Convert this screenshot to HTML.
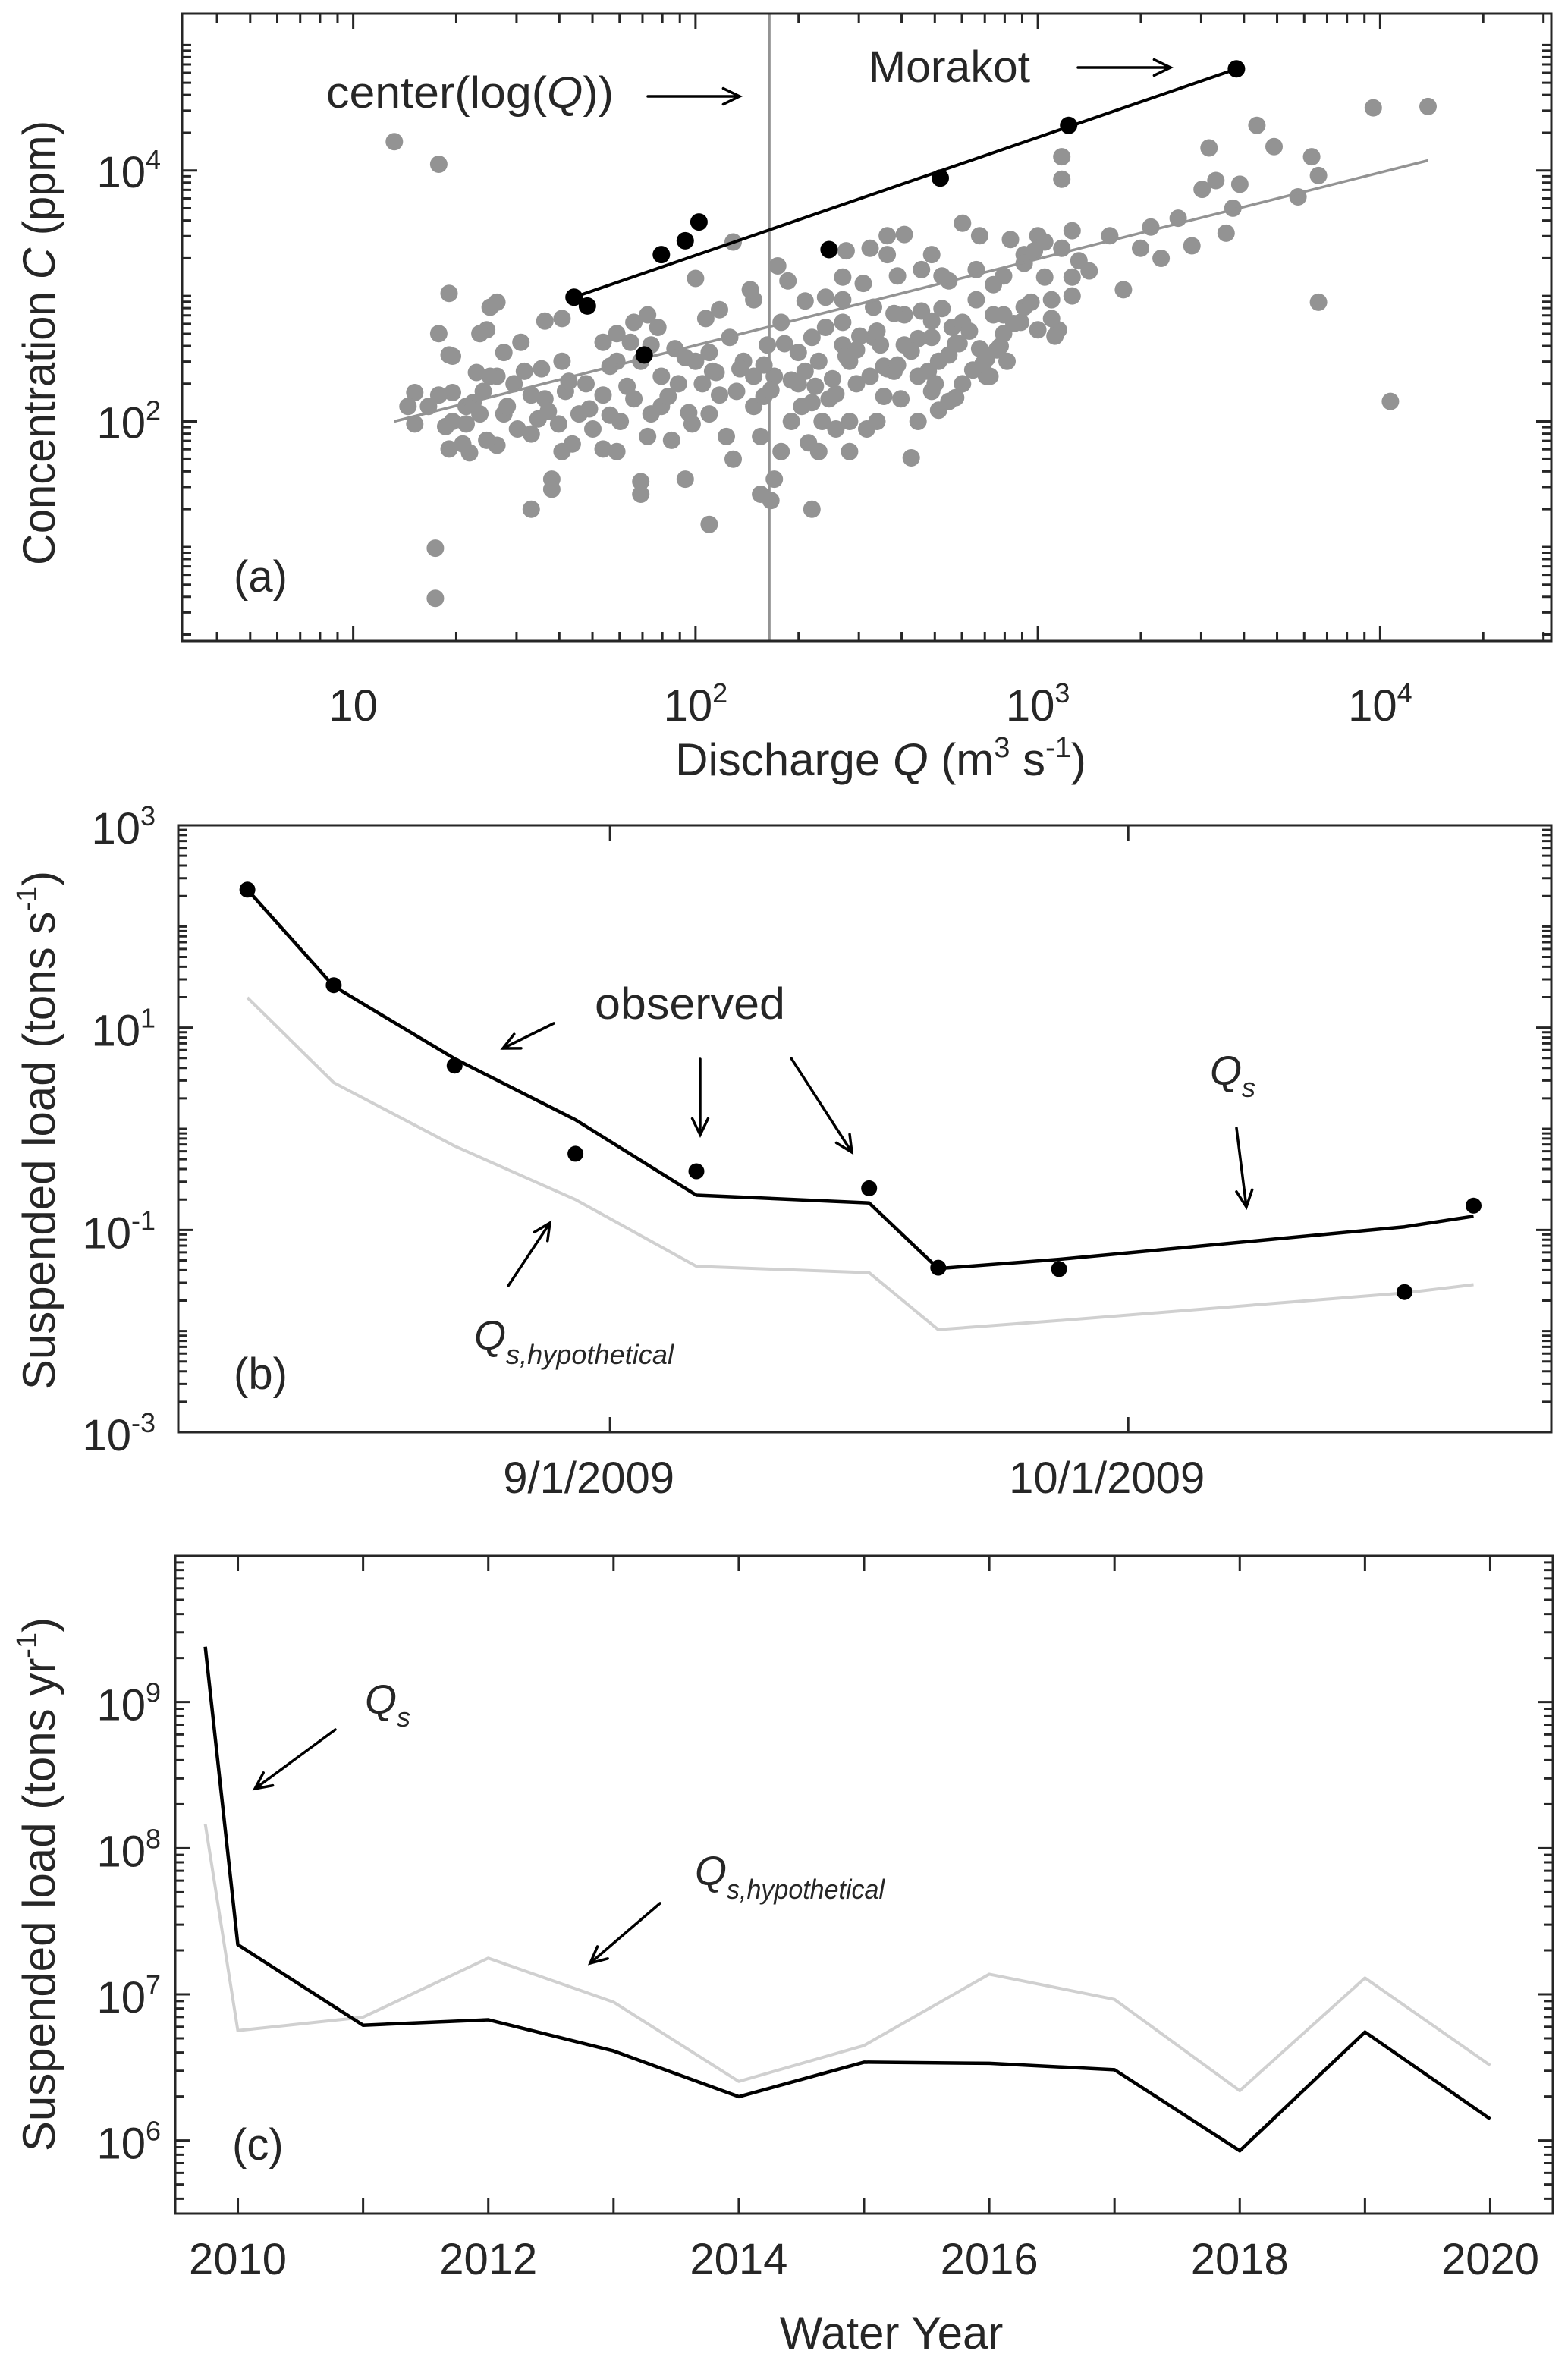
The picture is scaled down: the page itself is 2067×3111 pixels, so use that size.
<!DOCTYPE html>
<html><head><meta charset="utf-8"><title>Suspended sediment figure</title>
<style>
html,body{margin:0;padding:0;background:#fff;}
svg{display:block;font-family:"Liberation Sans",sans-serif;}
text{fill:#262626;}
</style></head>
<body>
<svg id="fig" xmlns="http://www.w3.org/2000/svg" width="2067" height="3111" viewBox="0 0 2067 3111">
<rect x="0" y="0" width="2067" height="3111" fill="#fff"/>
<g id="panelA"></g>
<g id="panelB"></g>
<g id="panelC"></g>

<!-- Panel a static text -->
<text x="72" y="452" font-size="60" text-anchor="middle" transform="rotate(-90 72 452)" textLength="586" lengthAdjust="spacingAndGlyphs">Concentration <tspan font-style="italic">C</tspan> (ppm)</text>
<text x="1161" y="1022" font-size="60" text-anchor="middle">Discharge <tspan font-style="italic">Q</tspan> (m<tspan font-size="38" dy="-24">3</tspan><tspan dy="24"> s</tspan><tspan font-size="38" dy="-24">-1</tspan><tspan dy="24">)</tspan></text>
<text x="308" y="780" font-size="58">(a)</text>
<text x="430" y="142" font-size="58" textLength="379" lengthAdjust="spacingAndGlyphs">center(log(<tspan font-style="italic">Q</tspan>))</text>
<text x="1145" y="108" font-size="58" textLength="213" lengthAdjust="spacingAndGlyphs">Morakot</text>

<!-- Panel b static text -->
<text x="72" y="1490" font-size="60" text-anchor="middle" transform="rotate(-90 72 1490)">Suspended load (tons s<tspan font-size="38" dy="-24">-1</tspan><tspan dy="24">)</tspan></text>
<text x="308" y="1831" font-size="58">(b)</text>
<text x="784" y="1343" font-size="58" textLength="251" lengthAdjust="spacingAndGlyphs">observed</text>
<text x="1595" y="1430" font-size="54" font-style="italic">Q<tspan font-size="36" dy="16">s</tspan></text>
<text x="625" y="1779" font-size="54" font-style="italic">Q<tspan font-size="36" dy="19" textLength="221" lengthAdjust="spacingAndGlyphs">s,hypothetical</tspan></text>

<!-- Panel c static text -->
<text x="72" y="2484" font-size="60" text-anchor="middle" transform="rotate(-90 72 2484)">Suspended load (tons yr<tspan font-size="38" dy="-24">-1</tspan><tspan dy="24">)</tspan></text>
<text x="1175" y="3096" font-size="60" text-anchor="middle">Water Year</text>
<text x="306" y="2847" font-size="58">(c)</text>
<text x="481" y="2259" font-size="54" font-style="italic">Q<tspan font-size="36" dy="17">s</tspan></text>
<text x="916" y="2485" font-size="54" font-style="italic">Q<tspan font-size="36" dy="18" textLength="208" lengthAdjust="spacingAndGlyphs">s,hypothetical</tspan></text>
</svg>

<script>
// ---------- Panel (a) data: log10 discharge / log10 concentration ----------
const greyLogQ = [1.12,1.25,1.24,1.24,4.03,4.14,3.98,3.82,3.64,3.50,3.69,3.80,3.82,3.76,3.59,3.48,3.52,3.57,3.41,3.33,3.21,3.30,3.07,3.07,3.07,3.10,3.12,3.06,3.10,3.00,2.96,2.90,2.87,2.82,2.78,2.74,2.75,2.69,2.66,2.61,2.59,2.51,2.44,2.43,2.49,2.56,2.38,2.32,
2.17,2.25,2.34,2.43,2.52,2.61,2.69,2.78,2.87,2.96,3.04,3.10,2.61,2.52,2.43,2.36,2.30,2.21,2.14,2.10,2.04,2.23,2.30,2.39,2.45,2.50,2.56,2.65,2.71,2.78,2.85,2.91,3.00,2.63,2.36,2.33,2.34,2.41,2.25,2.23,2.22,2.19,2.04,1.99,2.04,2.09,2.12,1.97,1.86,1.84,1.84,1.77,1.73,1.64,1.61,1.52,1.58,1.58,1.42,1.39,1.32,1.28,
1.29,1.33,1.38,1.42,1.47,1.52,1.56,1.62,1.68,1.73,1.82,1.90,1.95,2.00,2.06,2.07,1.90,1.84,1.77,1.81,1.89,1.94,1.61,1.55,1.49,1.44,1.40,1.36,1.29,1.25,1.22,1.18,1.16,1.18,1.27,1.33,1.37,1.44,1.48,1.54,1.60,1.66,1.70,1.78,1.87,1.93,1.29,1.28,1.28,1.25,1.40,1.39,1.37,1.42,1.56,1.61,1.73,1.77,1.82,1.97,2.03,2.07,2.11,2.16,2.00,1.86,1.87,
2.24,2.27,2.43,2.45,2.56,2.69,2.72,2.82,2.83,2.92,2.96,3.02,2.54,2.65,2.74,2.83,2.90,2.95,3.04,2.88,2.51,2.60,2.40,2.31,2.17,2.11,2.19,2.55,2.71,2.76,2.86,2.81,2.69,2.99,3.02,2.34,1.98,2.28,2.37,2.45,2.53,2.65,2.74,2.17,2.20,2.47,2.58,2.90,3.15,3.25,3.36,3.45,3.55,2.05,1.75,1.52,1.34,
2.20,2.26,2.32,2.38,2.44,2.48,2.55,2.58,2.63,2.68,2.72,2.77,2.80,2.85,2.93,2.98,3.05,2.22,2.28,2.35,2.41,2.47,2.53,2.59,2.66,2.70,2.76,2.84,2.89,1.35,1.45,1.50,1.57,1.63,1.69,1.75,1.80,1.92,2.02,2.13];
const greyLogC = [4.23,4.05,0.99,0.59,2.16,4.51,4.50,2.95,4.36,4.18,4.19,4.11,3.96,3.79,3.89,3.85,3.92,3.70,3.62,3.55,3.48,3.38,3.93,4.11,3.38,3.52,3.28,2.73,3.15,3.48,3.33,3.16,3.09,2.97,3.58,3.12,2.75,2.80,3.21,3.49,3.16,3.38,3.36,3.15,3.10,3.33,2.99,2.96,
2.97,2.79,2.67,2.79,2.91,2.85,2.67,2.79,2.85,2.91,2.97,3.00,2.61,2.67,2.61,2.48,2.55,2.61,2.48,2.67,2.55,2.36,2.30,2.18,2.00,1.94,2.42,2.36,2.48,2.30,2.36,2.48,2.73,1.71,1.76,1.83,1.30,1.94,1.76,1.54,1.37,1.42,1.18,1.98,2.06,1.88,2.24,1.54,1.88,1.52,1.42,1.76,1.78,1.82,1.76,1.30,1.54,1.46,1.81,1.85,1.82,1.78,
2.00,2.12,2.24,2.36,2.30,2.21,2.18,2.24,2.30,2.21,2.18,2.12,2.30,2.48,2.39,2.21,2.36,2.48,2.48,2.63,2.75,2.58,2.48,2.42,2.63,2.55,2.36,2.39,2.23,2.21,2.12,2.23,2.12,1.98,1.96,1.98,2.06,2.06,1.94,2.02,1.98,2.06,1.94,2.00,2.06,1.85,2.52,3.02,2.53,2.70,2.91,2.73,2.70,2.95,2.80,2.82,2.63,2.70,2.79,2.51,2.82,2.89,3.43,3.05,3.14,2.85,2.61,
3.24,3.12,2.97,2.48,3.48,3.33,3.16,3.21,3.48,3.45,3.26,3.43,2.61,2.66,2.53,2.58,2.70,2.79,2.82,2.57,2.36,2.18,2.34,2.12,2.12,1.70,1.88,2.20,2.09,2.19,2.36,2.41,2.24,3.36,3.15,2.15,2.07,2.00,2.00,1.76,2.00,2.00,2.16,2.36,2.20,2.30,2.40,2.85,3.20,3.05,3.30,3.40,3.50,2.40,2.05,1.90,1.75,
2.45,2.62,2.40,2.75,2.52,2.68,2.44,2.86,2.56,2.40,2.90,2.62,2.72,2.50,2.78,2.95,2.68,2.25,2.33,2.28,2.22,2.57,2.72,2.45,2.88,2.30,2.62,2.46,2.60,2.15,2.12,2.40,2.08,2.32,2.10,2.44,2.28,2.20,2.30,2.42];
const eventLogQ = [1.645,1.684,1.85,1.90,1.97,2.01,2.39,2.715,3.09,3.58];
const eventLogC = [2.99,2.92,2.53,3.33,3.44,3.59,3.37,3.94,4.36,4.81];
const fitLogQ = [1.12,4.14];
const fitLogC = [2.00,4.08];
const morakotFitLogQ = [1.645,3.58];
const morakotFitLogC = [2.99,4.81];
const centerLogQ = [2.216];
const aXTickLabels = ["10","10^2","10^3","10^4"];
const aXTickValues = [1,2,3,4];
const aYTickLabels = ["10^2","10^4"];
const aYTickValues = [2,4];

// ---------- Panel (b) data: days after 1 Aug 2009, log10 tons/s ----------
const bObsDays = [10,15,22,29,36,46,50,57,77,81];
const bObsLog = [2.364,1.42,0.625,-0.247,-0.42,-0.588,-1.373,-1.387,-1.614,-0.76];
const bModelDays = [10,15,22,29,36,46,50,57,77,81];
const bQsLog = [2.364,1.41,0.693,0.089,-0.656,-0.733,-1.382,-1.291,-0.969,-0.865];
const bQsHypLog = [1.297,0.457,-0.17,-0.70,-1.36,-1.423,-1.986,-1.896,-1.623,-1.541];
const bXTickLabels = ["9/1/2009","10/1/2009"];
const bXTickValues = [31,61];
const bYTickLabels = ["10^-3","10^-1","10^1","10^3"];
const bYTickValues = [-3,-1,1,3];

// ---------- Panel (c) data: water year, log10 tons/yr ----------
const cYears = [2009.74,2010,2011,2012,2013,2014,2015,2016,2017,2018,2019,2020];
const cQsLog = [9.378,7.34,6.789,6.826,6.613,6.30,6.536,6.528,6.484,5.93,6.742,6.147];
const cQsHypLog = [8.166,6.752,6.844,7.248,6.947,6.404,6.650,7.138,6.965,6.341,7.112,6.514];
const cXTickLabels = ["2010","2012","2014","2016","2018","2020"];
const cXTickValues = [2010,2012,2014,2016,2018,2020];
const cYTickLabels = ["10^6","10^7","10^8","10^9"];
const cYTickValues = [6,7,8,9];

const NS = "http://www.w3.org/2000/svg";
function mk(parent, tag, attrs){
  const e = document.createElementNS(NS, tag);
  for (const k in attrs) e.setAttribute(k, attrs[k]);
  parent.appendChild(e);
  return e;
}
function lin(d0,d1,p0,p1){ return v => p0 + (v-d0)/(d1-d0)*(p1-p0); }

const FRAME = "#262626";
function frame(g, L, T, R, B, name){
  const r = mk(g, "rect", {x:L, y:T, width:R-L, height:B-T, fill:"none", stroke:FRAME, "stroke-width":3});
  
  
}
function tickPath(g, d, name){
  const p = mk(g, "path", {d:d, stroke:FRAME, "stroke-width":3, fill:"none"});
  
  
}
function logYTicks(g, sy, lo, hi, L, R, majors, name){
  let d = "";
  for (let dec = Math.floor(lo); dec <= Math.ceil(hi); dec++){
    for (let k = 1; k <= 9; k++){
      const v = dec + Math.log10(k);
      if (v < lo - 1e-9 || v > hi + 1e-9) continue;
      const len = (k === 1 && majors.includes(dec)) ? 20 : 12;
      const y = sy(v);
      d += `M${L},${y}h${len}M${R},${y}h${-len}`;
    }
  }
  tickPath(g, d, name);
}
function logXTicks(g, sx, lo, hi, T, B, majors, name){
  let d = "";
  for (let dec = Math.floor(lo); dec <= Math.ceil(hi); dec++){
    for (let k = 1; k <= 9; k++){
      const v = dec + Math.log10(k);
      if (v < lo - 1e-9 || v > hi + 1e-9) continue;
      const len = (k === 1 && majors.includes(dec)) ? 20 : 12;
      const x = sx(v);
      d += `M${x},${B}v${-len}M${x},${T}v${len}`;
    }
  }
  tickPath(g, d, name);
}
function linXTicks(g, sx, vals, T, B, name){
  let d = "";
  vals.forEach(v => { const x = sx(v); d += `M${x},${B}v-20M${x},${T}v20`; });
  tickPath(g, d, name);
}
function powLabel(g, txt, x, y, anchor, name){
  const parts = txt.split("^");
  const t = mk(g, "text", {x:x, y:y, "font-size":58, "text-anchor":anchor});
  
  
  const a = document.createElementNS(NS, "tspan");
  a.textContent = parts[0];
  t.appendChild(a);
  if (parts.length > 1){
    const b = document.createElementNS(NS, "tspan");
    b.setAttribute("font-size", "36");
    b.setAttribute("dy", "-24");
    b.textContent = parts[1];
    t.appendChild(b);
  }
  return t;
}
function polyline(g, xs, ys, sx, sy, color, w, name){
  const pts = xs.map((x,i) => `${sx(x).toFixed(1)},${sy(ys[i]).toFixed(1)}`).join(" ");
  const p = mk(g, "polyline", {points:pts, fill:"none", stroke:color, "stroke-width":w, "stroke-linejoin":"round"});
  
  
}
function arrow(g, x1, y1, x2, y2, name){
  const ang = Math.atan2(y2-y1, x2-x1), h = 24, a = 0.45;
  const ax = x2 - h*Math.cos(ang-a), ay = y2 - h*Math.sin(ang-a);
  const bx = x2 - h*Math.cos(ang+a), by = y2 - h*Math.sin(ang+a);
  const p = mk(g, "path", {d:`M${x1},${y1}L${x2},${y2}M${ax},${ay}L${x2},${y2}L${bx},${by}`, fill:"none", stroke:"#000", "stroke-width":3.5, "stroke-linecap":"round"});
  
  
}

// ================= Panel (a) =================
(function(){
  const g = document.getElementById("panelA");
  const L=240, R=2045, T=18, B=845;
  const sx = lin(0.5, 4.5, L, R), sy = lin(0.25, 5.25, B, T);
  const cl = mk(g, "line", {x1:sx(centerLogQ[0]), y1:T, x2:sx(centerLogQ[0]), y2:B, stroke:"#939393", "stroke-width":3});
  
  
  greyLogQ.forEach((q,i) => {
    const c = mk(g, "circle", {cx:sx(q).toFixed(1), cy:sy(greyLogC[i]).toFixed(1), r:11.5, fill:"#939393"});
    
    
  });
  polyline(g, fitLogQ, fitLogC, sx, sy, "#939393", 3.5, "rating-fit-line");
  polyline(g, morakotFitLogQ, morakotFitLogC, sx, sy, "#000", 4, "morakot-fit-line");
  eventLogQ.forEach((q,i) => {
    const c = mk(g, "circle", {cx:sx(q).toFixed(1), cy:sy(eventLogC[i]).toFixed(1), r:11.5, fill:"#000"});
    
    
  });
  logYTicks(g, sy, 0.25, 5.25, L, R, aYTickValues, "y-ticks-a");
  logXTicks(g, sx, 0.5, 4.5, T, B, [1,2,3,4], "x-ticks-a");
  frame(g, L, T, R, B, "axes-frame-a");
  aXTickValues.forEach((v,i) => powLabel(g, aXTickLabels[i], sx(v), 950, "middle", "x-tick-label-a"));
  aYTickValues.forEach((v,i) => powLabel(g, aYTickLabels[i], 212, sy(v)+22, "end", "y-tick-label-a"));
  arrow(g, 854, 127, 975, 127, "center-arrow");
  arrow(g, 1421, 89, 1543, 89, "morakot-arrow");
})();

// ================= Panel (b) =================
(function(){
  const g = document.getElementById("panelB");
  const L=235, R=2045, T=1088, B=1888;
  const sx = lin(6, 85.5, L, R), sy = lin(-3, 3, B, T);
  polyline(g, bModelDays, bQsHypLog, sx, sy, "#d0d0d0", 4, "qs-hypothetical-line-b");
  polyline(g, bModelDays, bQsLog, sx, sy, "#000", 4.5, "qs-line-b");
  bObsDays.forEach((d,i) => {
    const c = mk(g, "circle", {cx:sx(d).toFixed(1), cy:sy(bObsLog[i]).toFixed(1), r:10.5, fill:"#000"});
    
    
  });
  logYTicks(g, sy, -3, 3, L, R, bYTickValues, "y-ticks-b");
  linXTicks(g, sx, bXTickValues, T, B, "x-ticks-b");
  frame(g, L, T, R, B, "axes-frame-b");
  bXTickValues.forEach((v,i) => {
    const t = mk(g, "text", {x:sx(v)-28, y:1968, "font-size":58, "text-anchor":"middle"});
    
    
    t.textContent = bXTickLabels[i];
  });
  bYTickValues.forEach((v,i) => powLabel(g, bYTickLabels[i], 205, sy(v)+24, "end", "y-tick-label-b"));
  arrow(g, 730, 1349, 663, 1382, "observed-arrow-1");
  arrow(g, 923, 1396, 923, 1496, "observed-arrow-2");
  arrow(g, 1043, 1395, 1123, 1519, "observed-arrow-3");
  arrow(g, 1630, 1487, 1643, 1591, "qs-arrow-b");
  arrow(g, 670, 1695, 725, 1612, "qs-hypothetical-arrow-b");
})();

// ================= Panel (c) =================
(function(){
  const g = document.getElementById("panelC");
  const L=231, R=2047, T=2051, B=2918;
  const sx = lin(2009.5, 2020.5, L, R), sy = lin(5.5, 10, B, T);
  polyline(g, cYears, cQsHypLog, sx, sy, "#d0d0d0", 4, "qs-hypothetical-line-c");
  polyline(g, cYears, cQsLog, sx, sy, "#000", 4.5, "qs-line-c");
  logYTicks(g, sy, 5.5, 10, L, R, [6,7,8,9,10], "y-ticks-c");
  const yrs = [];
  for (let y = 2010; y <= 2020; y++) yrs.push(y);
  linXTicks(g, sx, yrs, T, B, "x-ticks-c");
  frame(g, L, T, R, B, "axes-frame-c");
  cXTickValues.forEach((v,i) => {
    const t = mk(g, "text", {x:sx(v), y:2998, "font-size":58, "text-anchor":"middle"});
    
    
    t.textContent = cXTickLabels[i];
  });
  cYTickValues.forEach((v,i) => powLabel(g, cYTickLabels[i], 212, sy(v)+24, "end", "y-tick-label-c"));
  arrow(g, 442, 2280, 336, 2358, "qs-arrow-c");
  arrow(g, 870, 2509, 778, 2588, "qs-hypothetical-arrow-c");
})();
</script>
</body></html>
